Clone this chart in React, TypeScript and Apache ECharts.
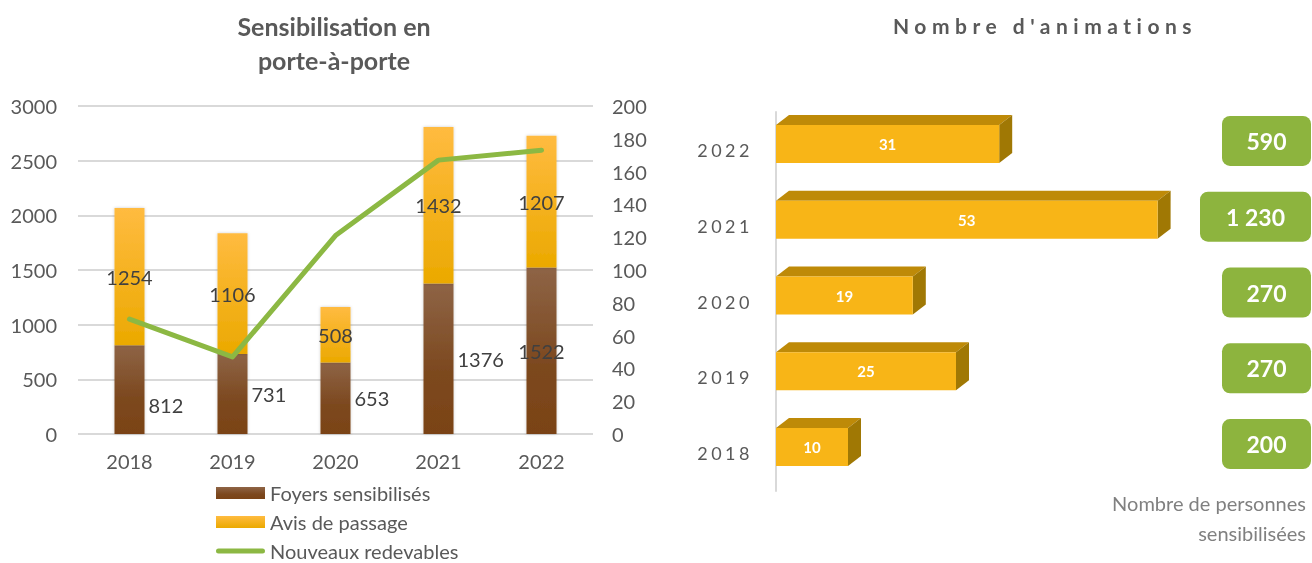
import React, { useEffect, useRef } from "react";
import * as echarts from "echarts";

const years = ["2018", "2019", "2020", "2021", "2022"];
const foyers = [812, 731, 653, 1376, 1522];
const avis = [1254, 1106, 508, 1432, 1207];
const redevables = [70, 47, 121, 167, 173];
const animations = [10, 25, 19, 53, 31];
const personnes = [200, 270, 270, 1230, 590];

const FONT = "Lato";
const GRAY = "#595959";

const fmt = (n: number) => String(n).replace(/\B(?=(\d{3})+(?!\d))/g, " ");

const LINE_ICON =
  "path://M0,0L0.01,0L0.01,0.01Z M2.5,3.5L46.5,3.5A2.5,2.5,0,0,1,46.5,8.5L2.5,8.5A2.5,2.5,0,0,1,2.5,3.5Z M48.99,11.99L49,11.99L49,12Z";

export default function App() {
  const ref = useRef<HTMLDivElement>(null);
  useEffect(() => {
    if (!ref.current) return;
    const chart = echarts.init(ref.current, null, { renderer: "svg" });

    const foyersTweaks: Record<string, any> = {
      "2018": { offset: [0, 15] },
      "2022": { position: "inside" },
    };

    const option: any = {
      animation: false,
      textStyle: { fontFamily: FONT },
      title: [
        {
          text: "Sensibilisation en\nporte-à-porte",
          left: 329,
          top: 4,
          textAlign: "center",
          textStyle: { fontFamily: FONT, fontSize: 25, fontWeight: "bold", color: GRAY, lineHeight: 34 },
        },
        {
          text: "Nombre d'animations",
          left: 1040,
          top: 10,
          textAlign: "center",
          textStyle: { fontFamily: FONT, fontSize: 21, fontWeight: "bold", color: GRAY },
        },
      ],
      legend: {
        orient: "vertical",
        left: 216,
        top: 483,
        height: 110,
        padding: 0,
        itemWidth: 49,
        itemHeight: 12,
        itemGap: 9,
        selectedMode: false,
        textStyle: { fontFamily: FONT, fontSize: 20, color: GRAY },
        data: [
          { name: "Foyers sensibilisés", icon: "rect" },
          { name: "Avis de passage", icon: "rect" },
          { name: "Nouveaux redevables", icon: LINE_ICON },
        ],
      },
      grid: [
        { left: 78, top: 106, width: 515, height: 328 },
        { left: 776, top: 112, width: 432, height: 379 },
      ],
      xAxis: [
        {
          type: "category",
          gridIndex: 0,
          data: years,
          axisLine: { show: false },
          axisTick: { show: false },
          axisLabel: { fontFamily: FONT, fontSize: 20, color: GRAY, margin: 17 },
        },
        { type: "value", gridIndex: 1, min: 0, max: 60, show: false },
      ],
      yAxis: [
        {
          type: "value",
          gridIndex: 0,
          min: 0,
          max: 3000,
          interval: 500,
          axisLine: { show: false },
          axisTick: { show: false },
          axisLabel: { fontFamily: FONT, fontSize: 20, color: GRAY, margin: 21, formatter: (v: number) => String(v) },
          splitLine: { lineStyle: { color: "#D9D9D9", width: 2 } },
        },
        {
          type: "value",
          gridIndex: 0,
          position: "right",
          min: 0,
          max: 200,
          interval: 20,
          axisLine: { show: false },
          axisTick: { show: false },
          axisLabel: { fontFamily: FONT, fontSize: 20, color: GRAY, margin: 19, formatter: (v: number) => String(v) },
          splitLine: { show: false },
        },
        {
          type: "category",
          gridIndex: 1,
          data: years,
          offset: 8,
          axisLine: { show: true, lineStyle: { color: "#D9D9D9", width: 2 } },
          axisTick: { show: false },
          axisLabel: { fontFamily: FONT, fontSize: 18, color: GRAY, margin: 15 },
        },
      ],
      series: [
        {
          name: "Foyers sensibilisés",
          type: "bar",
          stack: "total",
          xAxisIndex: 0,
          yAxisIndex: 0,
          barWidth: 30,
          itemStyle: {
            color: new echarts.graphic.LinearGradient(0, 0, 0, 1, [
              { offset: 0, color: "#8E6446" },
              { offset: 0.6, color: "#7C481E" },
              { offset: 1, color: "#7A4316" },
            ]),
            shadowBlur: 3,
            shadowColor: "rgba(0,0,0,0.2)",
          },
          label: {
            show: true,
            position: "right",
            distance: 4,
            fontFamily: FONT,
            fontSize: 20,
            color: "#404040",
          },
          data: foyers.map((v, i) => ({ value: v, label: foyersTweaks[years[i]] || {} })),
        },
        {
          name: "Avis de passage",
          type: "bar",
          stack: "total",
          xAxisIndex: 0,
          yAxisIndex: 0,
          barWidth: 30,
          itemStyle: {
            color: new echarts.graphic.LinearGradient(0, 0, 0, 1, [
              { offset: 0, color: "#FFBB40" },
              { offset: 1, color: "#EBA900" },
            ]),
            shadowBlur: 3,
            shadowColor: "rgba(0,0,0,0.2)",
          },
          label: { show: true, position: "inside", fontFamily: FONT, fontSize: 20, color: "#404040" },
          data: avis,
        },
        {
          name: "Nouveaux redevables",
          type: "line",
          xAxisIndex: 0,
          yAxisIndex: 1,
          symbol: "none",
          z: 5,
          color: "#8CB843",
          lineStyle: { width: 5, color: "#8CB843", cap: "round", join: "round" },
          data: redevables,
        },
        {
          name: "Animations",
          type: "custom",
          xAxisIndex: 1,
          yAxisIndex: 2,
          clip: false,
          encode: { x: 0, y: 1 },
          data: animations.map((v, i) => [v, i]),
          renderItem: (params: any, api: any) => {
            const v = api.value(0);
            const i = api.value(1);
            const p1 = api.coord([v, i]);
            const x0 = api.coord([0, i])[0];
            const x1 = p1[0];
            const h = 38, dx = 13, dy = 10;
            const top = p1[1] - 6 - h / 2;
            const bot = top + h;
            return {
              type: "group",
              children: [
                { type: "polygon", shape: { points: [[x0, top], [x0 + dx, top - dy], [x1 + dx, top - dy], [x1, top]] }, style: { fill: "#BE8A08" } },
                { type: "polygon", shape: { points: [[x1, top], [x1 + dx, top - dy], [x1 + dx, bot - dy], [x1, bot]] }, style: { fill: "#A07804" } },
                { type: "rect", shape: { x: x0, y: top, width: x1 - x0, height: h }, style: { fill: "#F8B517" } },
                {
                  type: "text",
                  x: (x0 + x1) / 2,
                  y: top + h / 2,
                  style: { text: String(v), fill: "#FFFFFF", font: `bold 15px ${FONT}`, align: "center", verticalAlign: "middle" },
                },
              ],
            };
          },
        },
        {
          name: "Personnes",
          type: "custom",
          xAxisIndex: 1,
          yAxisIndex: 2,
          clip: false,
          encode: { x: 0, y: 1 },
          data: personnes.map((v, i) => [0, i, v]),
          renderItem: (params: any, api: any) => {
            const i = api.value(1);
            const v = api.value(2);
            const label = fmt(v);
            const yc = api.coord([0, i])[1] - 9;
            const w = label.length > 3 ? 111 : 89;
            const right = api.getWidth() - 1;
            return {
              type: "group",
              children: [
                { type: "rect", shape: { x: right - w, y: yc - 25, width: w, height: 50, r: 8 }, style: { fill: "#8DB43E" } },
                {
                  type: "text",
                  x: right - w / 2,
                  y: yc,
                  style: { text: label, fill: "#FFFFFF", font: `bold 23px ${FONT}`, align: "center", verticalAlign: "middle" },
                },
              ],
            };
          },
        },
      ],
      graphic: [
        {
          type: "text",
          x: 1306,
          y: 488,
          style: {
            text: "Nombre de personnes\nsensibilisées",
            align: "right",
            verticalAlign: "top",
            font: `20px ${FONT}`,
            fill: "#808080",
            lineHeight: 30,
          },
        },
      ],
    };

    chart.setOption(option);

    const root = ref.current;
    root.querySelectorAll("text").forEach((t: any) => {
      const s = t.textContent;
      if (s === "Nombre d'animations") {
        t.setAttribute("letter-spacing", "5.5");
      } else if (/^20\d\d$/.test(s)) {
        try {
          const b = t.getBoundingClientRect();
          if (b.left > 650) t.setAttribute("letter-spacing", "3.5");
        } catch (e) {}
      }
    });

    return () => chart.dispose();
  }, []);

  return <div ref={ref} style={{ position: "fixed", left: 0, top: 0, width: 1312, height: 563 }} />;
}
